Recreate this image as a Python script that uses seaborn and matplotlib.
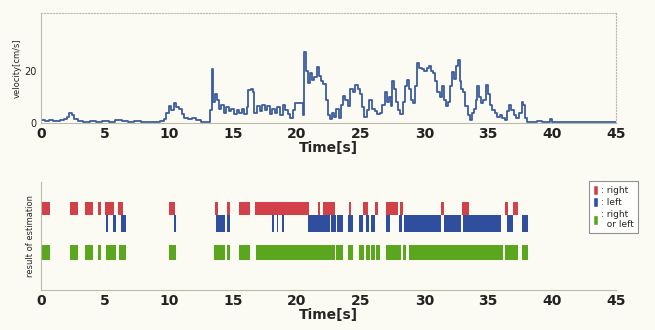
import numpy as np
import pandas as pd
import matplotlib
matplotlib.use("Agg")
import matplotlib.pyplot as plt
import seaborn as sns
from matplotlib.patches import Patch

# ---- velocity data ----
vel_t = [0, 0.3, 0.6, 0.9, 1.2, 1.5, 1.8, 2.0, 2.2, 2.4, 2.6, 2.9, 3.3, 3.8, 4.3, 4.8, 5.3, 5.8,
         6.3, 6.8, 7.3, 7.8, 8.3, 8.8, 9.3, 9.6, 9.8, 10.0, 10.2, 10.4, 10.6, 10.8, 11.0, 11.2,
         11.5, 11.8, 12.1, 12.5, 12.9, 13.2, 13.25, 13.35, 13.45, 13.6, 13.75, 13.9, 14.1, 14.3,
         14.5, 14.7, 14.9, 15.1, 15.3, 15.5, 15.7, 15.9, 16.1, 16.2, 16.4, 16.55, 16.7, 16.9,
         17.1, 17.3, 17.5, 17.7, 17.9, 18.1, 18.3, 18.5, 18.7, 18.9, 19.1, 19.3, 19.5, 19.7,
         19.9, 20.1, 20.3, 20.5, 20.6, 20.75, 20.9, 21.05, 21.2, 21.4, 21.6, 21.75, 21.9, 22.1,
         22.3, 22.45, 22.6, 22.75, 22.9, 23.1, 23.3, 23.5, 23.65, 23.8, 24.0, 24.2, 24.4, 24.6,
         24.8, 24.95, 25.1, 25.3, 25.5, 25.7, 25.9, 26.1, 26.3, 26.5, 26.7, 26.9, 27.05, 27.2,
         27.35, 27.5, 27.65, 27.8, 27.95, 28.1, 28.3, 28.5, 28.65, 28.8, 28.95, 29.1, 29.3,
         29.45, 29.6, 29.8, 30.0, 30.2, 30.35, 30.5, 30.7, 30.85, 31.0, 31.2, 31.35, 31.5,
         31.7, 31.85, 32.0, 32.15, 32.3, 32.45, 32.6, 32.75, 32.9, 33.05, 33.2, 33.4, 33.55,
         33.7, 33.85, 34.0, 34.15, 34.3, 34.45, 34.6, 34.8, 34.95, 35.1, 35.3, 35.5, 35.7,
         35.9, 36.1, 36.3, 36.5, 36.65, 36.8, 37.0, 37.2, 37.4, 37.6, 37.75, 37.9, 38.05,
         38.4, 38.8, 39.2, 39.6, 39.8, 40.0, 40.5, 41.0, 42.0, 43.0, 44.0, 45.0]
vel_v = [1.0, 0.8, 1.2, 0.7, 0.9, 1.1, 1.5, 2.5, 3.8, 3.0, 1.5, 0.8, 0.6, 0.9, 0.5, 0.8, 0.6, 1.2,
         0.7, 0.5, 0.8, 0.4, 0.6, 0.5, 0.8, 1.5, 4.0, 6.5, 5.0, 7.8, 6.0, 5.5, 3.5, 2.0,
         1.5, 1.8, 1.0, 0.6, 0.5, 0.6, 5.0, 20.5, 8.0, 11.0, 9.0, 5.5, 7.0, 4.0,
         6.0, 4.5, 5.5, 3.5, 5.0, 4.0, 5.5, 3.5, 6.0, 12.5, 13.0, 12.0, 4.0, 6.5,
         4.5, 7.0, 5.0, 6.5, 3.5, 5.5, 4.0, 6.0, 3.0, 7.0, 5.0, 3.5, 2.0, 5.0,
         7.5, 7.8, 7.5, 3.0, 27.0, 20.0, 15.5, 19.0, 16.5, 17.5, 21.5, 18.0, 16.0, 15.0,
         9.0, 3.0, 1.5, 4.0, 2.5, 5.5, 2.0, 7.0, 10.5, 9.0, 6.5, 13.0, 12.0, 14.5,
         13.0, 11.0, 6.0, 2.5, 5.0, 9.0, 5.5, 4.5, 3.5, 4.0, 7.0, 12.0, 8.0, 10.0,
         6.5, 16.0, 13.0, 8.0, 5.0, 3.5, 8.0, 14.0, 16.5, 13.0, 9.0, 7.5, 14.0,
         23.0, 21.0, 20.5, 20.0, 21.0, 22.0, 20.0, 19.0, 16.0, 12.0, 10.0, 14.0, 9.0,
         6.5, 8.0, 14.0, 19.5, 17.0, 22.0, 24.0, 16.0, 13.0, 12.0, 6.5, 3.0, 1.2,
         4.0, 5.5, 9.0, 14.0, 10.0, 7.5, 9.0, 14.5, 11.0, 7.0, 5.0, 4.0, 2.5,
         3.0, 2.0, 1.2, 4.5, 7.0, 5.0, 3.0, 2.0, 4.0, 8.0, 7.0, 2.0, 0.6,
         0.5, 0.7, 0.5, 0.6, 1.6, 0.6, 0.4, 0.3, 0.4, 0.3, 0.3, 0.3]

# ---- estimation result intervals (start, end) in seconds ----
right_iv = [(0.0, 0.67), (2.3, 2.93), (3.48, 4.05), (4.45, 4.71), (4.97, 5.75), (6.06, 6.4),
            (10.0, 10.45), (13.65, 13.83), (14.57, 14.75), (15.53, 16.37), (16.78, 21.0),
            (21.66, 21.85), (22.05, 22.97), (24.1, 24.27), (25.18, 25.57), (26.17, 26.38),
            (26.96, 27.92), (28.13, 28.31), (31.3, 31.5), (32.93, 33.47), (36.27, 36.53),
            (36.9, 37.3)]
left_iv = [(5.1, 5.23), (5.62, 5.83), (6.27, 6.67), (10.4, 10.58), (13.7, 14.36), (14.57, 14.75),
           (18.09, 18.22), (18.45, 18.58), (18.87, 19.05), (20.92, 22.6), (22.7, 23.1),
           (23.2, 23.62), (24.0, 24.45), (24.92, 25.18), (25.45, 25.7), (25.84, 26.1),
           (26.96, 27.32), (28.05, 28.26), (28.44, 31.3), (31.5, 32.9), (33.0, 36.0),
           (36.45, 36.92), (37.65, 38.1)]
either_iv = [(0.0, 0.67), (2.3, 2.93), (3.48, 4.05), (4.45, 4.71), (5.1, 5.83), (6.09, 6.67),
             (10.0, 10.58), (13.57, 13.97), (14.02, 14.36), (14.57, 14.75), (15.53, 16.37),
             (16.83, 23.0), (23.1, 23.62), (24.0, 24.4), (24.92, 25.3), (25.45, 25.75),
             (25.85, 26.15), (26.25, 26.5), (26.96, 28.2), (28.3, 28.57), (28.78, 36.13),
             (36.27, 37.3), (37.65, 38.1)]

legend_labels = [": right", ": left", ": right\n  or left"]
x_ticks = [0, 5, 10, 15, 20, 25, 30, 35, 40, 45]

RED = "#d2404a"
BLUE = "#2f4f9e"
GREEN = "#5aa61e"
LINE = "#3d5c9e"
BG = "#fbfbf4"

sns.set_style("white")
plt.rcParams['font.family'] = ['DejaVu Sans']

fig = plt.figure(figsize=(6.55, 3.3), dpi=100, facecolor=BG)

# ---------- top: velocity ----------
ax1 = fig.add_axes([0.0626, 0.627, 0.878, 0.333], facecolor=BG)
df = pd.DataFrame({"t": vel_t, "v": vel_v})
sns.lineplot(data=df, x="t", y="v", ax=ax1, color=LINE, linewidth=1.3, drawstyle="steps-post")
ax1.set_xlim(0, 45)
ax1.set_ylim(0, 42)
ax1.set_xticks(x_ticks)
ax1.set_yticks([0, 20])
ax1.set_xlabel("Time[s]", fontsize=10, fontweight="bold", labelpad=0)
ax1.set_ylabel("velocity[cm/s]", fontsize=6, labelpad=2)
ax1.tick_params(axis="x", labelsize=10, pad=1, length=2, colors="#222222")
ax1.tick_params(axis="y", labelsize=7, pad=1, length=2, colors="#222222")
for lab in ax1.get_xticklabels():
    lab.set_fontweight("bold")
for s in ax1.spines.values():
    s.set_color("#b8bca8")
    s.set_linewidth(0.8)
ax1.spines["top"].set_linestyle(":")
ax1.spines["right"].set_linestyle(":")

# ---------- bottom: estimation result ----------
ax2 = fig.add_axes([0.0626, 0.121, 0.878, 0.327], facecolor=BG)
rows = [(right_iv, 0.694, 0.123, RED), (left_iv, 0.54, 0.154, BLUE), (either_iv, 0.278, 0.139, GREEN)]
for ivs, y0, h, col in rows:
    ax2.broken_barh([(a, b - a) for a, b in ivs], (y0, h), facecolors=col, edgecolor="none")
ax2.set_xlim(0, 45)
ax2.set_ylim(0, 1)
ax2.set_xticks(x_ticks)
ax2.set_yticks([])
ax2.set_xlabel("Time[s]", fontsize=10, fontweight="bold", labelpad=0)
ax2.set_ylabel("result of estimation", fontsize=6, labelpad=4)
ax2.tick_params(axis="x", labelsize=10, pad=1, length=2, colors="#222222")
for lab in ax2.get_xticklabels():
    lab.set_fontweight("bold")
for k, s in ax2.spines.items():
    s.set_color("#b8bca8")
    s.set_linewidth(0.8)
ax2.spines["top"].set_visible(False)
ax2.spines["right"].set_visible(False)

handles = [Patch(facecolor=RED), Patch(facecolor=BLUE), Patch(facecolor=GREEN)]
leg = fig.legend(handles, legend_labels, loc="upper left", bbox_to_anchor=(0.893, 0.465),
                 fontsize=6.5, frameon=True, handlelength=0.5, handleheight=1.3,
                 handletextpad=0.4, borderpad=0.4, labelspacing=0.3, fancybox=False)
leg.get_frame().set_edgecolor("#777777")
leg.get_frame().set_linewidth(0.8)
leg.get_frame().set_facecolor("white")

fig.savefig("out.png", dpi=100, facecolor=BG)
